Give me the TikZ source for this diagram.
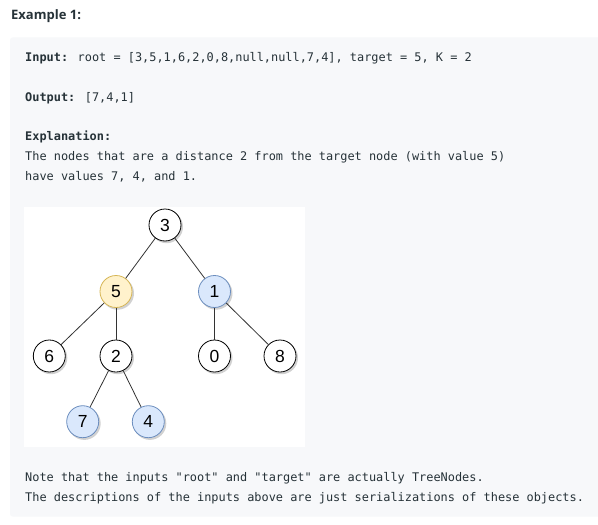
\documentclass[tikz,border=0pt]{standalone}
\usepackage{fontspec}
\newfontfamily\monof{DejaVu Sans Mono}
\newfontfamily\headf{Open Sans}
\newfontfamily\nodef{Liberation Sans}
\definecolor{panel}{HTML}{F7F8FA}
\definecolor{txt}{HTML}{263238}
\definecolor{edgec}{HTML}{333333}
\definecolor{yfill}{HTML}{FFF2CC}
\definecolor{ydraw}{HTML}{D6B656}
\definecolor{bfill}{HTML}{DAE8FC}
\definecolor{bdraw}{HTML}{6C8EBF}
\tikzset{
  codeline/.style={anchor=base west, inner sep=0pt, text=txt, font=\monof\fontsize{11.9}{14}\selectfont},
  tnode/.style={circle, draw=black, fill=white, line width=0.8pt, minimum size=32pt, inner sep=0pt, font=\nodef\fontsize{17.5}{20}\selectfont},
  ynode/.style={tnode, draw=ydraw, fill=yfill},
  bnode/.style={tnode, draw=bdraw, fill=bfill},
  tedge/.style={draw=edgec, line width=0.8pt},
}
\begin{document}
\begin{tikzpicture}[x=1pt,y=-1pt]
\useasboundingbox (0,0) rectangle (598,525);
\fill[white] (0,0) rectangle (598,525);
% heading
\node[anchor=base west, inner sep=0pt, text=txt, font=\headf\bfseries\fontsize{13}{15}\selectfont] (head) at (11,19) {Example 1:};
% panel
\fill[panel, rounded corners=3pt] (10,37.3) rectangle (610,516.7);
\node[codeline] (inp) at (25,61) {{\bfseries Input:} root = [3,5,1,6,2,0,8,null,null,7,4], target = 5, K = 2};
\node[codeline] (outp) at (25,101) {{\bfseries Output:} [7,4,1]};
\node[codeline] (expl) at (25,140.7) {{\bfseries Explanation:}};
\node[codeline] (l1) at (25,160) {The nodes that are a distance 2 from the target node (with value 5)};
\node[codeline] (l2) at (25,180) {have values 7, 4, and 1.};
\node[codeline] (n1) at (25,481) {Note that the inputs "root" and "target" are actually TreeNodes.};
\node[codeline] (n2) at (25,501) {The descriptions of the inputs above are just serializations of these objects.};
% tree image background
\fill[white] (24,207.3) rectangle (305,446.7);
% shadows
\foreach \p in {(165,225),(116,291.5),(214.5,291.5),(49.3,356),(116,356),(214.5,356),(280,356),(82.7,421.7),(148.3,421.7)}{
  \fill[black, opacity=0.18] \p ++(1.6,1.8) circle (16.4);
}
% nodes
\node[tnode] (t3) at (165,225) {3};
\node[ynode] (t5) at (116,291.5) {5};
\node[bnode] (t1) at (214.5,291.5) {1};
\node[tnode] (t6) at (49.3,356) {6};
\node[tnode] (t2) at (116,356) {2};
\node[tnode] (t0) at (214.5,356) {0};
\node[tnode] (t8) at (280,356) {8};
\node[bnode] (t7) at (82.7,421.7) {7};
\node[bnode] (t4) at (148.3,421.7) {4};
% edges
\draw[tedge] (t3) -- (t5);
\draw[tedge] (t3) -- (t1);
\draw[tedge] (t5) -- (t6);
\draw[tedge] (t5) -- (t2);
\draw[tedge] (t1) -- (t0);
\draw[tedge] (t1) -- (t8);
\draw[tedge] (t2) -- (t7);
\draw[tedge] (t2) -- (t4);
\end{tikzpicture}
\end{document}
